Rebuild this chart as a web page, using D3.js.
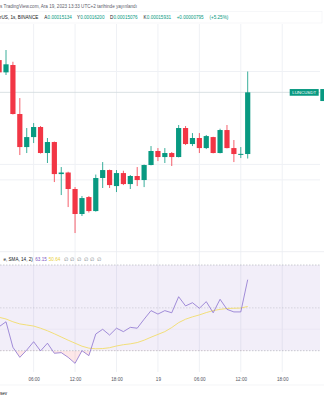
<!DOCTYPE html>
<html>
<head>
<meta charset="utf-8">
<script src="https://cdn.jsdelivr.net/npm/d3@7"></script>
<style>
  html, body { margin: 0; padding: 0; background: #fff; }
  svg { display: block; font-family: "Liberation Sans", Arial, sans-serif; }
</style>
</head>
<body>
<svg id="chart" width="324" height="400"></svg>
<script>
// hourly candles, index 1 = 18th 01:00 ... 37 = 19th 13:00
const hours = d3.range(1, 38);
const opens  = [0.00016348, 0.00016189, 0.00016284, 0.00015651, 0.00015224, 0.00015353, 0.00015483, 0.00015147, 0.00015289, 0.00014875,
                0.00014895, 0.00014682, 0.00014359, 0.00014578, 0.00014397, 0.00014824, 0.00014927, 0.00014720, 0.00014888, 0.00014746,
                0.00014850, 0.00014798, 0.00014992, 0.00015173, 0.00015095, 0.00015147, 0.00015095, 0.00015470, 0.00015263, 0.00015341,
                0.00015211, 0.00015353, 0.00015147, 0.00015444, 0.00015211, 0.00015134, 0.00015134];
const highs  = [0.00016387, 0.00016478, 0.00016326, 0.00015857, 0.00015470, 0.00015534, 0.00015496, 0.00015341, 0.00015295, 0.00014966,
                0.00014905, 0.00014707, 0.00014591, 0.00014591, 0.00014869, 0.00015030, 0.00014933, 0.00014927, 0.00014918, 0.00014863,
                0.00014966, 0.00014998, 0.00015237, 0.00015211, 0.00015211, 0.00015160, 0.00015509, 0.00015496, 0.00015405, 0.00015405,
                0.00015380, 0.00015357, 0.00015461, 0.00015509, 0.00015315, 0.00015224, 0.00016200];
const lows   = [0.00016167, 0.00016155, 0.00015645, 0.00015121, 0.00015147, 0.00015276, 0.00015140, 0.00015018, 0.00014772, 0.00014604,
                0.00014449, 0.00014113, 0.00014333, 0.00014378, 0.00014390, 0.00014695, 0.00014695, 0.00014643, 0.00014733, 0.00014682,
                0.00014720, 0.00014707, 0.00014988, 0.00015043, 0.00015018, 0.00014979, 0.00015091, 0.00015250, 0.00015237, 0.00015147,
                0.00015198, 0.00015143, 0.00015143, 0.00015207, 0.00015030, 0.00015082, 0.00015076];
const closes = [0.00016189, 0.00016293, 0.00015651, 0.00015224, 0.00015353, 0.00015483, 0.00015147, 0.00015289, 0.00014875, 0.00014895,
                0.00014682, 0.00014359, 0.00014565, 0.00014397, 0.00014824, 0.00014927, 0.00014733, 0.00014888, 0.00014746, 0.00014850,
                0.00014798, 0.00014992, 0.00015173, 0.00015095, 0.00015147, 0.00015095, 0.00015470, 0.00015263, 0.00015341, 0.00015211,
                0.00015366, 0.00015147, 0.00015444, 0.00015211, 0.00015134, 0.00015136, 0.00015931];
const rsi   = [41.2, 43.5, 31.6, 26.9, 30.3, 34.2, 29.9, 33.5, 28.8, 29.1, 26.9, 24.1, 30.0, 27.7, 37.8, 40.0, 37.3, 40.5, 38.9,
               40.9, 40.5, 44.7, 48.7, 47.1, 48.7, 47.7, 55.2, 50.9, 52.4, 49.8, 52.9, 47.7, 54.0, 49.3, 48.1, 48.1, 63.15];
const rsiMa = [45.6, 44.8, 43.5, 42.5, 42.0, 41.5, 40.5, 39.3, 37.9, 36.4, 34.9, 33.5, 32.1, 31.2, 30.9, 31.0, 31.4, 32.2, 32.8,
               33.2, 33.8, 34.9, 36.3, 37.6, 38.9, 40.8, 43.1, 44.7, 45.8, 46.7, 47.8, 48.7, 49.3, 49.7, 49.8, 49.9, 50.64];
const tickHours  = [6, 12, 18, 24, 30, 36, 42];
const tickLabels = ["06:00", "12:00", "18:00", "19", "06:00", "12:00", "18:00"];
const priceGrid  = [0.000148, 0.000150, 0.000162];
const rsiLevels  = [70, 50, 30];
const rsiGrid    = [40];

const green = "#089981", red = "#F23645";
const plotW = 320;

const svg = d3.select("#chart");

const x = d3.scaleLinear().domain([1, 37]).range([-0.9, 247.7]);
const y = d3.scaleLinear().domain([0.000140, 0.000165]).range([241.8, 48.3]);
const yr = d3.scaleLinear().domain([30, 70]).range([350.7, 265]);

const candles = hours.map((h, i) => ({h: h, o: opens[i], hi: highs[i], lo: lows[i], c: closes[i]}));
const rsiData = hours.map((h, i) => ({h: h, v: rsi[i], m: rsiMa[i]}));

// grid
svg.append("g")
    .selectAll("line")
    .data(tickHours)
    .enter()
    .append("line")
    .attr("x1", d => x(d)).attr("x2", d => x(d))
    .attr("y1", 24).attr("y2", 372)
    .attr("stroke", "#eff1f5");
svg.append("g")
    .selectAll("line")
    .data(priceGrid)
    .enter()
    .append("line")
    .attr("x1", 0).attr("x2", plotW)
    .attr("y1", d => y(d)).attr("y2", d => y(d))
    .attr("stroke", "#eff1f5");

// header box
svg.append("rect")
    .attr("x", -1).attr("y", 11.5).attr("width", 323).attr("height", 11.5)
    .attr("fill", "none").attr("stroke", "#f0f2f5").attr("stroke-width", 0.6);

// price line of last close
const last = candles[candles.length - 1];
svg.append("line")
    .attr("x1", 0).attr("x2", plotW)
    .attr("y1", y(last.c)).attr("y2", y(last.c))
    .attr("stroke", "#cfd8dc").attr("stroke-width", 0.8);

// candles
const cg = svg.append("g");
cg.selectAll("line")
    .data(candles)
    .enter()
    .append("line")
    .attr("x1", d => x(d.h)).attr("x2", d => x(d.h))
    .attr("y1", d => y(d.hi)).attr("y2", d => y(d.lo))
    .attr("stroke", d => d.c >= d.o ? green : red)
    .attr("stroke-width", 0.8);
cg.selectAll("rect")
    .data(candles)
    .enter()
    .append("rect")
    .attr("x", d => x(d.h) - 2.6)
    .attr("width", 5.2)
    .attr("y", d => y(Math.max(d.o, d.c)))
    .attr("height", d => Math.max(1, Math.abs(y(d.o) - y(d.c))))
    .attr("fill", d => d.c >= d.o ? green : red);

// price labels on the right
svg.append("rect")
    .attr("x", 289.7).attr("y", y(last.c) - 3.3).attr("width", 29).attr("height", 6.7)
    .attr("fill", green);
svg.append("text")
    .attr("x", 304.2).attr("y", y(last.c) + 1.6)
    .attr("text-anchor", "middle")
    .attr("fill", "#fff").attr("font-size", 4.4)
    .text("LUNCUSDT");
svg.append("rect")
    .attr("x", 320.3).attr("y", y(last.c) - 3.3).attr("width", 4).attr("height", 12)
    .attr("fill", green);

// header texts
svg.append("text")
    .attr("x", 0).attr("y", 7.8)
    .attr("font-size", 4.6).attr("fill", "#5d606b")
    .text("s TradingView.com, Ara 19, 2023 13:33 UTC+2 tarihinde yayınlandı");

const legend = [
  {x: 0, t: "rUS, 1s, BINANCE", c: "#131722"},
  {x: 44.3, t: "A", c: "#131722"}, {x: 47.6, t: "0.00015134", c: green},
  {x: 77, t: "Y", c: "#131722"}, {x: 80.2, t: "0.00016200", c: green},
  {x: 110, t: "D", c: "#131722"}, {x: 113.4, t: "0.00015076", c: green},
  {x: 143.5, t: "K", c: "#131722"}, {x: 146.8, t: "0.00015931", c: green},
  {x: 176.7, t: "+0.00000795", c: green},
  {x: 209.5, t: "(+5.25%)", c: green}
];
svg.append("g")
    .selectAll("text")
    .data(legend)
    .enter()
    .append("text")
    .attr("x", d => d.x).attr("y", 18.8)
    .attr("font-size", 4.6)
    .attr("fill", d => d.c)
    .text(d => d.t);

// RSI pane
svg.append("line")
    .attr("x1", 0).attr("x2", 324).attr("y1", 251.7).attr("y2", 251.7)
    .attr("stroke", "#e9ebef").attr("stroke-width", 0.8);
svg.append("rect")
    .attr("x", 0).attr("y", yr(70)).attr("width", plotW).attr("height", yr(30) - yr(70))
    .attr("fill", "rgba(126,87,194,0.1)");
svg.append("g")
    .selectAll("line")
    .data(rsiGrid)
    .enter()
    .append("line")
    .attr("x1", 0).attr("x2", plotW)
    .attr("y1", d => yr(d)).attr("y2", d => yr(d))
    .attr("stroke", "#e6e2f0").attr("stroke-width", 0.6);
svg.append("g")
    .selectAll("line")
    .data(rsiLevels)
    .enter()
    .append("line")
    .attr("x1", 0).attr("x2", plotW)
    .attr("y1", d => yr(d)).attr("y2", d => yr(d))
    .attr("stroke", "#9598a1")
    .attr("stroke-width", 0.6)
    .attr("stroke-opacity", d => d === 50 ? 0.5 : 0.8)
    .attr("stroke-dasharray", "1.5,1.5");

// oversold fill
svg.append("clipPath").attr("id", "below30")
    .append("rect")
    .attr("x", 0).attr("y", yr(30)).attr("width", plotW).attr("height", 40);
svg.append("path")
    .datum(rsiData)
    .attr("clip-path", "url(#below30)")
    .attr("fill", "rgba(242,54,69,0.12)")
    .attr("d", d3.area().x(d => x(d.h)).y0(yr(30)).y1(d => yr(d.v)));

svg.append("path")
    .datum(rsiData)
    .attr("fill", "none")
    .attr("stroke", "#f2dc6b")
    .attr("stroke-width", 0.9)
    .attr("d", d3.line().x(d => x(d.h)).y(d => yr(d.m)));
svg.append("path")
    .datum(rsiData)
    .attr("fill", "none")
    .attr("stroke", "#8b72cf")
    .attr("stroke-width", 0.8)
    .attr("d", d3.line().x(d => x(d.h)).y(d => yr(d.v)));

// RSI legend (its start lies left of the crop)
svg.append("text")
    .attr("x", 32.8).attr("y", 260.8)
    .attr("text-anchor", "end")
    .attr("font-size", 4.6).attr("fill", "#131722")
    .text("e, SMA, 14, 2)");
svg.append("text")
    .attr("x", 35.3).attr("y", 260.8)
    .attr("font-size", 4.6).attr("fill", "#7E57C2")
    .text(rsi[rsi.length - 1].toFixed(2));
svg.append("text")
    .attr("x", 48.8).attr("y", 260.8)
    .attr("font-size", 4.6).attr("fill", "#e9cf3c")
    .text(rsiMa[rsiMa.length - 1].toFixed(2));
svg.append("g")
    .selectAll("text")
    .data(d3.range(6))
    .enter()
    .append("text")
    .attr("x", d => 63.5 + d * 6.7).attr("y", 260.8)
    .attr("font-size", 4.6).attr("fill", "#787b86")
    .text("∅");

// time axis
const xAxis = svg.append("g")
    .attr("transform", "translate(0,377.6)")
    .call(d3.axisBottom(x).tickValues(tickHours).tickFormat((d, i) => tickLabels[i]).tickSize(0).tickPadding(0));
xAxis.select(".domain").remove();
xAxis.selectAll("text")
    .attr("font-size", 4.6)
    .attr("font-family", "Liberation Sans, Arial, sans-serif")
    .attr("fill", "#50535e");

svg.append("line")
    .attr("x1", 0).attr("x2", 324).attr("y1", 385).attr("y2", 385)
    .attr("stroke", "#eceef2").attr("stroke-width", 0.6);
svg.append("text")
    .attr("x", 0).attr("y", 394.5)
    .attr("font-size", 4.6).attr("fill", "#131722")
    .text("sev");
</script>
</body>
</html>
